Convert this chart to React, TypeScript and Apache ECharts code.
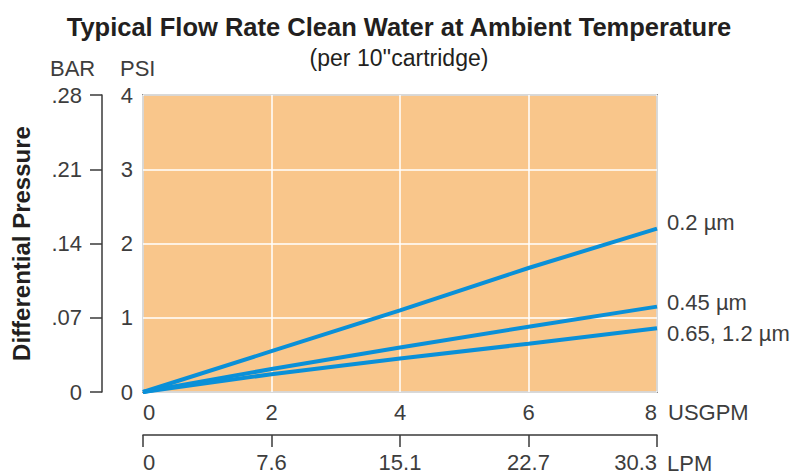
import React, { useEffect, useRef } from "react";
import * as echarts from "echarts";

const flowUsgpm = [0, 2, 4, 6, 8];
const lpmLabels = ["0", "7.6", "15.1", "22.7", "30.3"];
const barLabels = ["0", ".07", ".14", ".21", ".28"];
const seriesNames = ["0.2 µm", "0.45 µm", "0.65, 1.2 µm"];
const psi02 = [0, 0.55, 1.1, 1.67, 2.2];
const psi045 = [0, 0.31, 0.6, 0.88, 1.15];
const psi065 = [0, 0.24, 0.45, 0.65, 0.86];
const labelOffsets = [[0, -6], [0, -4], [0, 5]];

const FONT = '"Liberation Sans", Arial, Helvetica, sans-serif';
const TXT = "#3d3d3d";

export default function App() {
  const ref = useRef<HTMLDivElement>(null);
  useEffect(() => {
    if (!ref.current) return;
    const chart = echarts.init(ref.current, null, { renderer: "svg" });
    const allSeries = [psi02, psi045, psi065];
    chart.setOption({
      animation: false,
      textStyle: { fontFamily: FONT },
      title: {
        text: "Typical Flow Rate Clean Water at Ambient Temperature",
        subtext: "(per 10''cartridge)",
        left: "center",
        top: 9,
        itemGap: 6,
        textStyle: { fontFamily: FONT, fontSize: 25.5, fontWeight: "bold", color: "#231F20" },
        subtextStyle: { fontFamily: FONT, fontSize: 23, color: "#231F20" },
      },
      grid: {
        left: 143,
        right: 141,
        top: 95,
        bottom: 83,
        show: true,
        backgroundColor: "#F9C68B",
        borderColor: "#3a3a3a",
        borderWidth: 1.5,
      },
      xAxis: [
        {
          type: "value",
          min: 0,
          max: 8,
          interval: 2,
          position: "bottom",
          axisLine: { show: false, onZero: false },
          axisTick: { show: false },
          splitLine: { show: true, lineStyle: { color: "#ffffff", width: 1.5 } },
          axisLabel: {
            margin: 9,
            fontSize: 22,
            color: TXT,
            fontFamily: FONT,
            alignMinLabel: "left",
            alignMaxLabel: "right",
          },
        },
        {
          type: "value",
          min: 0,
          max: 8,
          interval: 2,
          position: "bottom",
          offset: 43,
          axisLine: { show: true, onZero: false, lineStyle: { color: "#3a3a3a", width: 1.5 } },
          axisTick: { show: true, length: 12, lineStyle: { color: "#3a3a3a", width: 1.5 } },
          splitLine: { show: false },
          axisLabel: {
            margin: 16,
            fontSize: 22,
            color: TXT,
            fontFamily: FONT,
            alignMinLabel: "left",
            alignMaxLabel: "right",
            formatter: (v: number) => lpmLabels[flowUsgpm.indexOf(v)] ?? "",
          },
        },
      ],
      yAxis: [
        {
          type: "value",
          min: 0,
          max: 4,
          interval: 1,
          position: "left",
          axisLine: { show: false, onZero: false },
          axisTick: { show: false },
          splitLine: { show: true, lineStyle: { color: "#ffffff", width: 1.5 } },
          axisLabel: { margin: 10, fontSize: 22, color: TXT, fontFamily: FONT },
        },
        {
          type: "value",
          min: 0,
          max: 4,
          interval: 1,
          position: "left",
          offset: 41,
          name: "Differential Pressure",
          nameLocation: "middle",
          nameGap: 69,
          nameRotate: 90,
          nameTextStyle: { fontFamily: FONT, fontSize: 24, fontWeight: "bold", color: "#231F20" },
          axisLine: { show: true, onZero: false, lineStyle: { color: "#3a3a3a", width: 1.5 } },
          axisTick: { show: true, length: 12, lineStyle: { color: "#3a3a3a", width: 1.5 } },
          splitLine: { show: false },
          axisLabel: {
            margin: 20,
            fontSize: 22,
            color: TXT,
            fontFamily: FONT,
            formatter: (v: number) => barLabels[v] ?? "",
          },
        },
      ],
      graphic: [
        { type: "text", left: 50, top: 57, style: { text: "BAR", fontSize: 22, fill: TXT, fontFamily: FONT } },
        { type: "text", left: 120, top: 57, style: { text: "PSI", fontSize: 22, fill: TXT, fontFamily: FONT } },
        { type: "text", left: 668, top: 401, style: { text: "USGPM", fontSize: 22, fill: TXT, fontFamily: FONT } },
        { type: "text", left: 667, top: 452, style: { text: "LPM", fontSize: 22, fill: TXT, fontFamily: FONT } },
      ],
      series: allSeries.map((vals, i) => ({
        type: "line",
        name: seriesNames[i],
        xAxisIndex: 0,
        yAxisIndex: 0,
        data: flowUsgpm.map((x, j) => [x, vals[j]]),
        smooth: false,
        showSymbol: false,
        symbol: "none",
        lineStyle: { color: "#0A90D8", width: 4 },
        endLabel: {
          show: true,
          formatter: "{a}",
          distance: 10,
          offset: labelOffsets[i],
          fontSize: 22,
          color: TXT,
          fontFamily: FONT,
        },
      })),
    });
    return () => chart.dispose();
  }, []);
  return <div ref={ref} style={{ width: 798, height: 475, position: "absolute", left: 0, top: 0 }} />;
}
